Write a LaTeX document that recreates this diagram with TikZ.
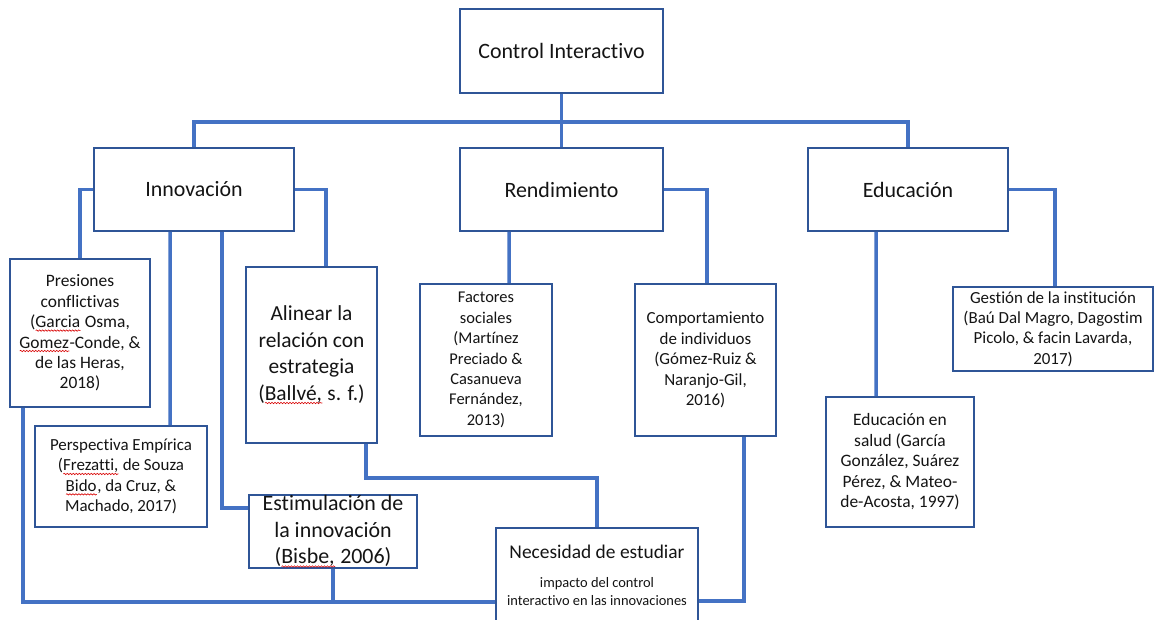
\documentclass[tikz,border=0pt]{standalone}
\usepackage{fontspec}
\setmainfont{Carlito}[Ligatures=NoCommon]
\usetikzlibrary{decorations.pathmorphing}
\newdimen\wvlen
\newcommand\redwave[1]{\setbox0\hbox{#1}\wvlen=\wd0\rlap{\box0}\tikz[baseline=0pt]\draw[red!85!black,line width=0.6bp,decorate,decoration={snake,amplitude=0.7bp,segment length=3bp}] (0pt,-3bp) -- (\wvlen,-3bp);}
\definecolor{lineblue}{HTML}{4472C4}
\definecolor{boxblue}{HTML}{2F5597}
\definecolor{txt}{HTML}{141414}
\begin{document}
\begin{tikzpicture}[x=1bp,y=-1bp,
  box/.style={draw=boxblue,line width=2bp,fill=white,align=center,inner sep=0pt,text=txt},
  big/.style={font=\fontsize{22}{26}\selectfont},
  mid/.style={font=\fontsize{21.5}{26.5}\selectfont},
  small/.style={font=\fontsize{17}{20.5}\selectfont},
  conn/.style={draw=lineblue,line width=3.5bp}]
\clip (0,0) rectangle (1155,620);
\fill[white] (0,0) rectangle (1155,620);
% level 0 and 1
\node[box,big,minimum width=203bp,minimum height=84bp] (ctrl) at (561.5,51) {Control Interactivo};
\node[box,big,minimum width=200bp,minimum height=83bp] (inno) at (194,189.5) {Innovación};
\node[box,big,minimum width=203bp,minimum height=83bp] (rend) at (561.5,189.5) {Rendimiento};
\node[box,big,minimum width=200bp,minimum height=83bp] (educ) at (908,189.5) {Educación};
% level 2
\node[box,small,font=\fontsize{17.5}{20.5}\selectfont,minimum width=140bp,minimum height=148bp] (pres) at (80,333) {Presiones\\conflictivas\\(\redwave{Garcia} Osma,\\\redwave{Gomez}-Conde, \&\\de las Heras,\\2018)};
\node[box,small,minimum width=172bp,minimum height=101bp] (persp) at (121,476.5) {Perspectiva Empírica\\(\redwave{Frezatti,} de Souza\\\redwave{Bido}, da Cruz, \&\\Machado, 2017)};
\node[box,mid,minimum width=131bp,minimum height=176bp] (alin) at (311.5,355) {Alinear la\\relación con\\estrategia\\(\redwave{Ballvé,} s. f.)};
\node[box,font=\fontsize{22}{26.5}\selectfont,minimum width=168bp,minimum height=73bp] (estim) at (333,531.5) {Estimulación de\\la innovación\\(\redwave{Bisbe,} 2006)};
\node[box,small,font=\fontsize{16.5}{20.5}\selectfont,minimum width=132bp,minimum height=152bp] (fact) at (486,360) {Factores\\sociales\\(Martínez\\Preciado \&\\Casanueva\\Fernández,\\2013)};
\node[box,small,minimum width=141bp,minimum height=152bp] (comp) at (705.5,360) {Comportamiento\\de individuos\\(Gómez-Ruiz \&\\Naranjo-Gil,\\2016)};
\node[box,font=\fontsize{14.5}{18}\selectfont,minimum width=202bp,minimum height=100bp] (nec) at (597,578) {{\fontsize{19.5}{20}\selectfont Necesidad de estudiar}\\[11bp]impacto del control\\interactivo en las innovaciones\\[-12bp]\mbox{}};
\node[box,small,minimum width=200bp,minimum height=84bp] (gest) at (1053,329) {Gestión de la institución\\(Baú Dal Magro, Dagostim\\Picolo, \& facin Lavarda,\\2017)};
\node[box,small,font=\fontsize{17.5}{20.5}\selectfont,minimum width=148bp,minimum height=130bp] (edsal) at (900,462) {Educación en\\salud (García\\González, Suárez\\Pérez, \& Mateo-\\de-Acosta, 1997)};
% connectors
\coordinate (bar) at (561.5,122);
\draw[conn] (ctrl.south) -- (rend.north);
\draw[conn] (inno.north) |- (bar) -| (educ.north);
\draw[conn] (inno.west) -| (pres.north);
\draw[conn] (inno.east) -| ([xshift=14.5bp]alin.north);
\draw[conn] ([xshift=-24bp]inno.south) -- ([xshift=49bp]persp.north);
\draw[conn] ([xshift=28bp]inno.south) |- ([yshift=23.5bp]estim.west);
\draw[conn] ([xshift=54.5bp]alin.south) -- ++(0,34) -| (nec.north);
\coordinate (jn) at ([yshift=-24bp]nec.west);
\draw[conn] ([xshift=-57bp]pres.south) |- (jn);
\draw[conn] (estim.south) -- (estim.south |- jn);
\draw[conn] ([xshift=38.5bp]comp.south) |- ([yshift=-23bp]nec.east);
\draw[conn] ([xshift=-52.5bp]rend.south) -- ([xshift=23bp]fact.north);
\draw[conn] (rend.east) -| ([xshift=1.5bp]comp.north);
\draw[conn] ([xshift=-32bp]educ.south) -- ([xshift=-24bp]edsal.north);
\draw[conn] (educ.east) -| ([xshift=2bp]gest.north);
\end{tikzpicture}
\end{document}
